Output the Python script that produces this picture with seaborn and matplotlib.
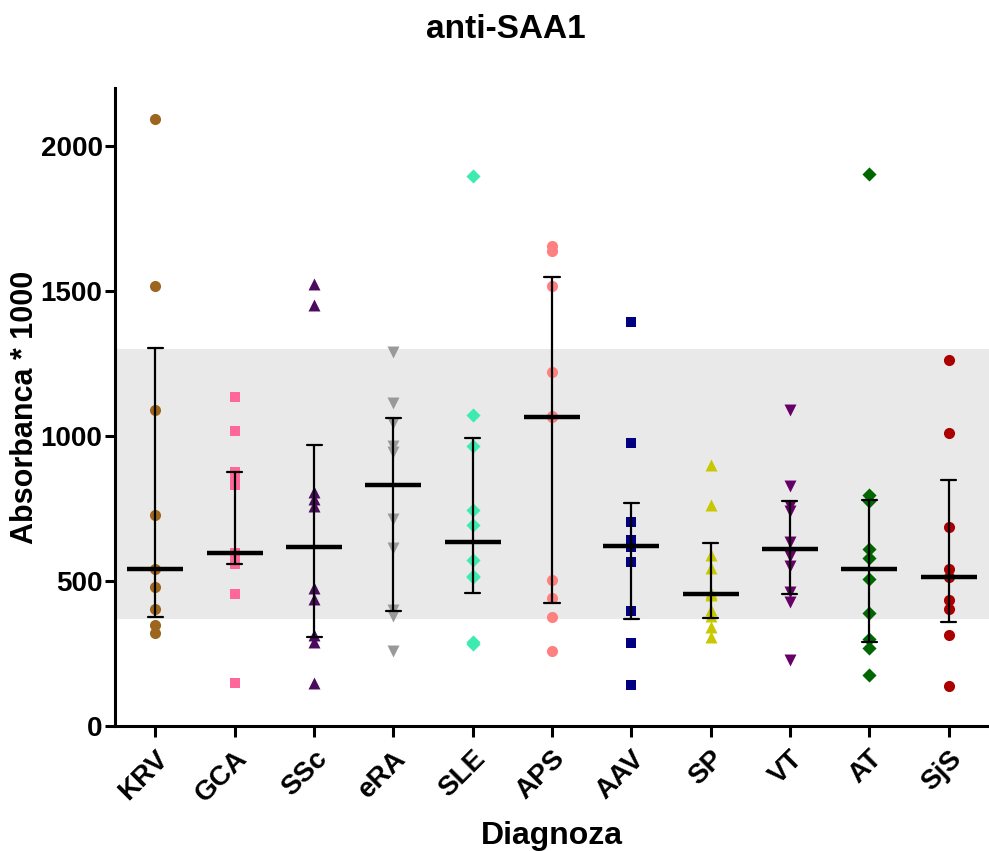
import numpy as np
import pandas as pd
import matplotlib
matplotlib.use("Agg")
import matplotlib.pyplot as plt
import seaborn as sns

sns.set_theme(style="white")
plt.rcParams['font.family'] = ['Liberation Sans', 'DejaVu Sans']
plt.rcParams['font.weight'] = 'bold'
for key in ['text.color', 'axes.labelcolor', 'xtick.color', 'ytick.color']:
    plt.rcParams[key] = 'black'

# values (absorbance * 1000)
KRV = [2093, 1516, 1091, 729, 542, 480, 404, 349, 321]
GCA = [1136, 1016, 875, 853, 831, 597, 586, 572, 559, 456, 147]
SSc = [1523, 1451, 806, 781, 758, 475, 437, 314, 291, 147]
eRA = [1288, 1114, 1045, 967, 945, 714, 613, 401, 380, 257]
SLE = [1896, 1071, 967, 744, 694, 573, 518, 514, 288, 284]
APS = [1655, 1637, 1517, 1220, 1068, 1066, 504, 441, 375, 260]
AAV = [1393, 976, 702, 640, 627, 617, 567, 397, 286, 142]
SP = [901, 763, 588, 545, 460, 452, 401, 380, 343, 306]
VT = [1088, 829, 760, 743, 634, 585, 550, 462, 429, 228]
AT = [1903, 795, 775, 611, 579, 507, 391, 299, 268, 176]
SjS = [1261, 1010, 685, 541, 514, 435, 405, 315, 139]

groups = ['KRV', 'GCA', 'SSc', 'eRA', 'SLE', 'APS', 'AAV', 'SP', 'VT', 'AT', 'SjS']
values = [KRV, GCA, SSc, eRA, SLE, APS, AAV, SP, VT, AT, SjS]
colors = ['#9C661F', '#FF6699', '#4A0C5C', '#999999', '#3DEBB0', '#FF8080',
          '#000080', '#C8C800', '#660066', '#006600', '#AA0000']
markers = ['o', 's', '^', 'v', 'D', 'o', 's', '^', 'v', 'D', 'o']

# reference range (grey band)
REF_LOW = 368
REF_HIGH = 1300

df = pd.DataFrame({
    'Diagnoza': np.repeat(groups, [len(v) for v in values]),
    'val': np.concatenate(values),
})


def iqr(x):
    # median with interquartile range, (n+1)p percentile rule
    return tuple(np.percentile(x, [25, 75], method='weibull'))


fig = plt.figure(figsize=(9.89, 8.51), dpi=100)
ax = fig.add_axes([0.1163, 0.1469, 0.8837, 0.7497])

ax.axhspan(REF_LOW, REF_HIGH, color='#E9E9E9', zorder=0, lw=0)

sizes = {'o': 8.0, 's': 7.6, '^': 8.6, 'v': 8.6, 'D': 7.2}
for g, c, m in zip(groups, colors, markers):
    sns.stripplot(data=df[df['Diagnoza'] == g], x='Diagnoza', y='val',
                  order=groups, jitter=False, marker=m, color=c,
                  size=sizes[m], linewidth=0, ax=ax, zorder=2)

sns.pointplot(data=df, x='Diagnoza', y='val', order=groups,
              estimator=np.median, errorbar=iqr, capsize=0.19,
              color='black', linestyle='none', marker='_',
              markersize=40, markeredgewidth=3.2,
              err_kws={'linewidth': 1.6}, ax=ax)
for ln in ax.lines:
    ln.set_zorder(3)

ax.set_xlim(-0.51, 10.51)
ax.set_ylim(0, 2200)
ax.set_yticks([0, 500, 1000, 1500, 2000])

sns.despine(ax=ax)
for side in ['left', 'bottom']:
    ax.spines[side].set_linewidth(2.2)
    ax.spines[side].set_color('black')

ax.tick_params(axis='y', length=7, width=2.2, labelsize=20, pad=2, left=True)
ax.tick_params(axis='x', length=8, width=2.2, labelsize=20, pad=6, bottom=True)
for lab in ax.get_yticklabels():
    lab.set_fontweight('bold')
ax.set_xticks(range(len(groups)))
ax.set_xticklabels(groups, rotation=45, ha='right', va='top',
                   rotation_mode='anchor', fontweight='bold', fontsize=20)

ax.set_xlabel('Diagnoza', fontsize=23, fontweight='bold', labelpad=10)
ax.set_ylabel('Absorbanca * 1000', fontsize=22, fontweight='bold')
ax.yaxis.set_label_coords(-0.0858, 0.499)
fig.text(0.511, 0.965, 'anti-SAA1', ha='center', va='center',
         fontsize=24, fontweight='bold')

fig.savefig('out.png', dpi=100)
